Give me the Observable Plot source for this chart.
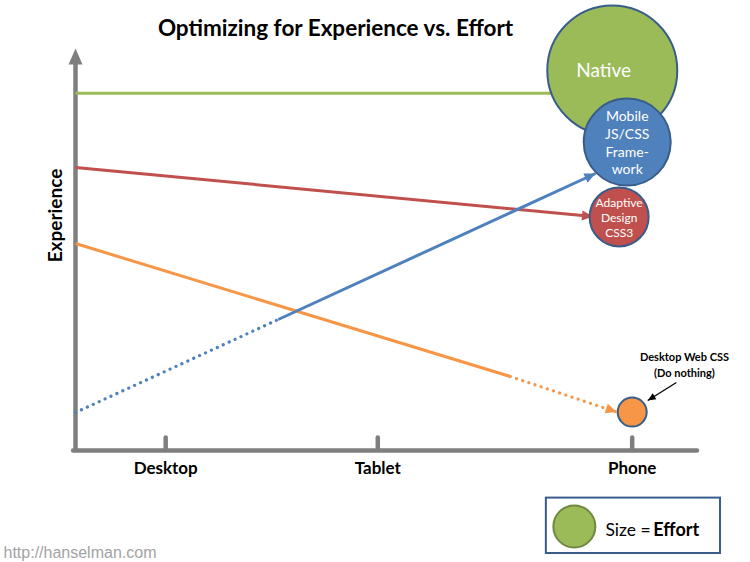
<!DOCTYPE html>
<html><head><meta charset="utf-8">
<script src="https://cdn.jsdelivr.net/npm/d3@7"></script>
<script src="https://cdn.jsdelivr.net/npm/@observablehq/plot@0.6"></script>
<style>body{margin:0;background:#fff}</style>
</head><body><div id="chart"></div>
<script>
// ---- data ----
const categories = ["Desktop", "Tablet", "Phone"];
const categoryX = [14.5, 48.6, 89.5];

const approaches = ["Native", "Mobile JS/CSS Framework", "Adaptive Design CSS3", "Desktop Web CSS"];
const bubbleLabels = ["Native", "Mobile\nJS/CSS\nFrame-\nwork", "Adaptive\nDesign\nCSS3", ""];
const bubbleX = [86.3, 88.7, 87.4, 89.5];
const bubbleY = [95, 77.1, 58.4, 9.6];
const effort = [65, 43.5, 29.5, 14.5];
const bubbleFill = ["#9bbb59", "#4f81bd", "#c0504d", "#f79646"];

// experience paths [x, experience]
const nativePath = [[0, 89.3], [86.3, 89.3]];
const adaptivePath = [[0, 70.75], [83.2, 58.5]];
const desktopSolid = [[0, 51.75], [69.9, 18.5]];
const desktopDotted = [[69.9, 18.5], [87.0, 9.6]];
const mobileDotted = [[0, 9.5], [32.6, 32.75]];
const mobileSolid = [[32.6, 32.75], [83.6, 69.25]];

const annotation = ["Desktop Web CSS", "(Do nothing)"];
const annotationArrow = [[96.6, 17], [92.0, 12.5]];

// ---- build ----
const green = "#9bbb59", red = "#c0504d", blue = "#4f81bd", orange = "#f79646";
const outline = "#385d8a", grey = "#7f7f7f";
const X = {domain: [0, 100], range: [75, 697]};
const Y = {domain: [0, 100], range: [450, 50]};
const sx = Plot.scale({x: X}), sy = Plot.scale({y: Y});
const seg = (p, color, style, arrow) => ({x1: p[0][0], y1: p[0][1], x2: p[1][0], y2: p[1][1], color, style, arrow});
const segments = [
  seg(nativePath, green, "solid", false),
  seg(adaptivePath, red, "solid", true),
  seg(desktopSolid, orange, "solid", false),
  seg(desktopDotted, orange, "dotted", true),
  seg(mobileDotted, blue, "dotted", false),
  seg(mobileSolid, blue, "solid", true)
];
const angle = (d) => {
  const dx = sx.apply(d.x2) - sx.apply(d.x1);
  const dy = sy.apply(d.y2) - sy.apply(d.y1);
  return Math.atan2(dx, -dy) * 180 / Math.PI;
};
const heads = segments.filter(d => d.arrow).map(d => ({x: d.x2, y: d.y2, rotate: angle(d), color: d.color}));
const ann = seg(annotationArrow, "#000", "solid", true);
const annHead = [{x: ann.x2, y: ann.y2, rotate: angle(ann), color: "#000"}];

const bubbles = approaches.map((name, i) => ({name, label: bubbleLabels[i], x: bubbleX[i], y: bubbleY[i], effort: effort[i], fill: bubbleFill[i]}));
const labelSize = [19, 14, 12, 0];
const labelLH = [1, 1.27, 1.25, 1];

const chart = Plot.plot({
  width: 750, height: 562, margin: 0,
  x: {...X, axis: null},
  y: {...Y, axis: null},
  r: {type: "linear", domain: [0, 100], range: [0, 100]},
  color: {type: "identity"},
  style: {fontFamily: "Lato, sans-serif", background: "white", color: "black"},
  marks: [
    // axes
    Plot.ruleX([0], {y1: -0.5, y2: 97.5, stroke: grey, strokeWidth: 4.5}),
    Plot.vector([{x: 0, y: 100.5}], {x: "x", y: "y", rotate: 0, length: 16, r: 7, shape: "spike", anchor: "end", fill: grey, stroke: "none"}),
    Plot.ruleY([0], {x1: -0.3, x2: 100, stroke: grey, strokeWidth: 4.5, strokeLinecap: "round"}),
    Plot.ruleX(categoryX, {y1: 0, y2: 3.1, stroke: grey, strokeWidth: 4.5, strokeLinecap: "round"}),
    Plot.text(categories, {x: (d, i) => categoryX[i], y: -4.6, text: d => d, fontSize: 17, fontWeight: "bold", fill: "black"}),
    Plot.text(["Experience"], {x: -3.2, y: 58.75, rotate: -90, fontSize: 19, fontWeight: "bold", fill: "black"}),
    // lines
    Plot.link(segments.filter(d => d.style === "solid"), {x1: "x1", y1: "y1", x2: "x2", y2: "y2", stroke: "color", strokeWidth: 3}),
    Plot.link(segments.filter(d => d.style === "dotted"), {x1: "x1", y1: "y1", x2: "x2", y2: "y2", stroke: "color", strokeWidth: 3.2, strokeDasharray: "0.1 6.4", strokeLinecap: "round"}),
    Plot.vector(heads, {x: "x", y: "y", rotate: "rotate", length: 11, r: 5, shape: "spike", anchor: "end", fill: "color", stroke: "none"}),
    // bubbles
    Plot.dot(bubbles, {x: "x", y: "y", r: "effort", fill: "fill", stroke: outline, strokeWidth: 2}),
    ...bubbles.slice(0, 3).map((b, i) => Plot.text([b], {
      x: d => i === 0 ? d.x - 1.4 : d.x, y: "y", text: "label", fill: "white",
      fontSize: labelSize[i], lineHeight: labelLH[i], lineAnchor: "middle"
    })),
    // annotation
    Plot.text([annotation.join("\n")], {x: 97.9, y: 21.75, text: d => d, fontSize: 11, fontWeight: "bold", lineHeight: 1.45, lineAnchor: "middle", fill: "black"}),
    Plot.link([ann], {x1: "x1", y1: "y1", x2: "x2", y2: "y2", stroke: "#000", strokeWidth: 1.3}),
    Plot.vector(annHead, {x: "x", y: "y", rotate: "rotate", length: 8, r: 3.5, shape: "spike", anchor: "end", fill: "#000", stroke: "none"}),
    // legend
    Plot.rect([{}], {x1: 75.7, x2: 103.7, y1: -11.9, y2: -25.75, fill: "white", stroke: outline, strokeWidth: 2}),
    Plot.dot([{}], {x: 80.2, y: -19, r: 21, fill: green, stroke: "#71893f", strokeWidth: 2}),
    Plot.text(["Size ="], {x: 85.2, y: -20, text: d => d, textAnchor: "start", fontSize: 17.5, fill: "black"}),
    Plot.text(["Effort"], {x: 92.9, y: -20, text: d => d, textAnchor: "start", fontSize: 18, fontWeight: "bold", fill: "black"}),
    // title & credit
    Plot.text(["Optimizing for Experience vs. Effort"], {frameAnchor: "top", dx: -40, dy: 28, text: d => d, fontSize: 22.5, fontWeight: "bold", lineAnchor: "middle", fill: "black"}),
    Plot.text(["http://hanselman.com"], {frameAnchor: "bottom-left", dx: 3, dy: -10, text: d => d, textAnchor: "start", lineAnchor: "middle", fontSize: 16, fontFamily: "Liberation Sans, Arial, sans-serif", fill: "#a3a3a3"})
  ]
});
document.getElementById("chart").appendChild(chart);
</script>
</body></html>
